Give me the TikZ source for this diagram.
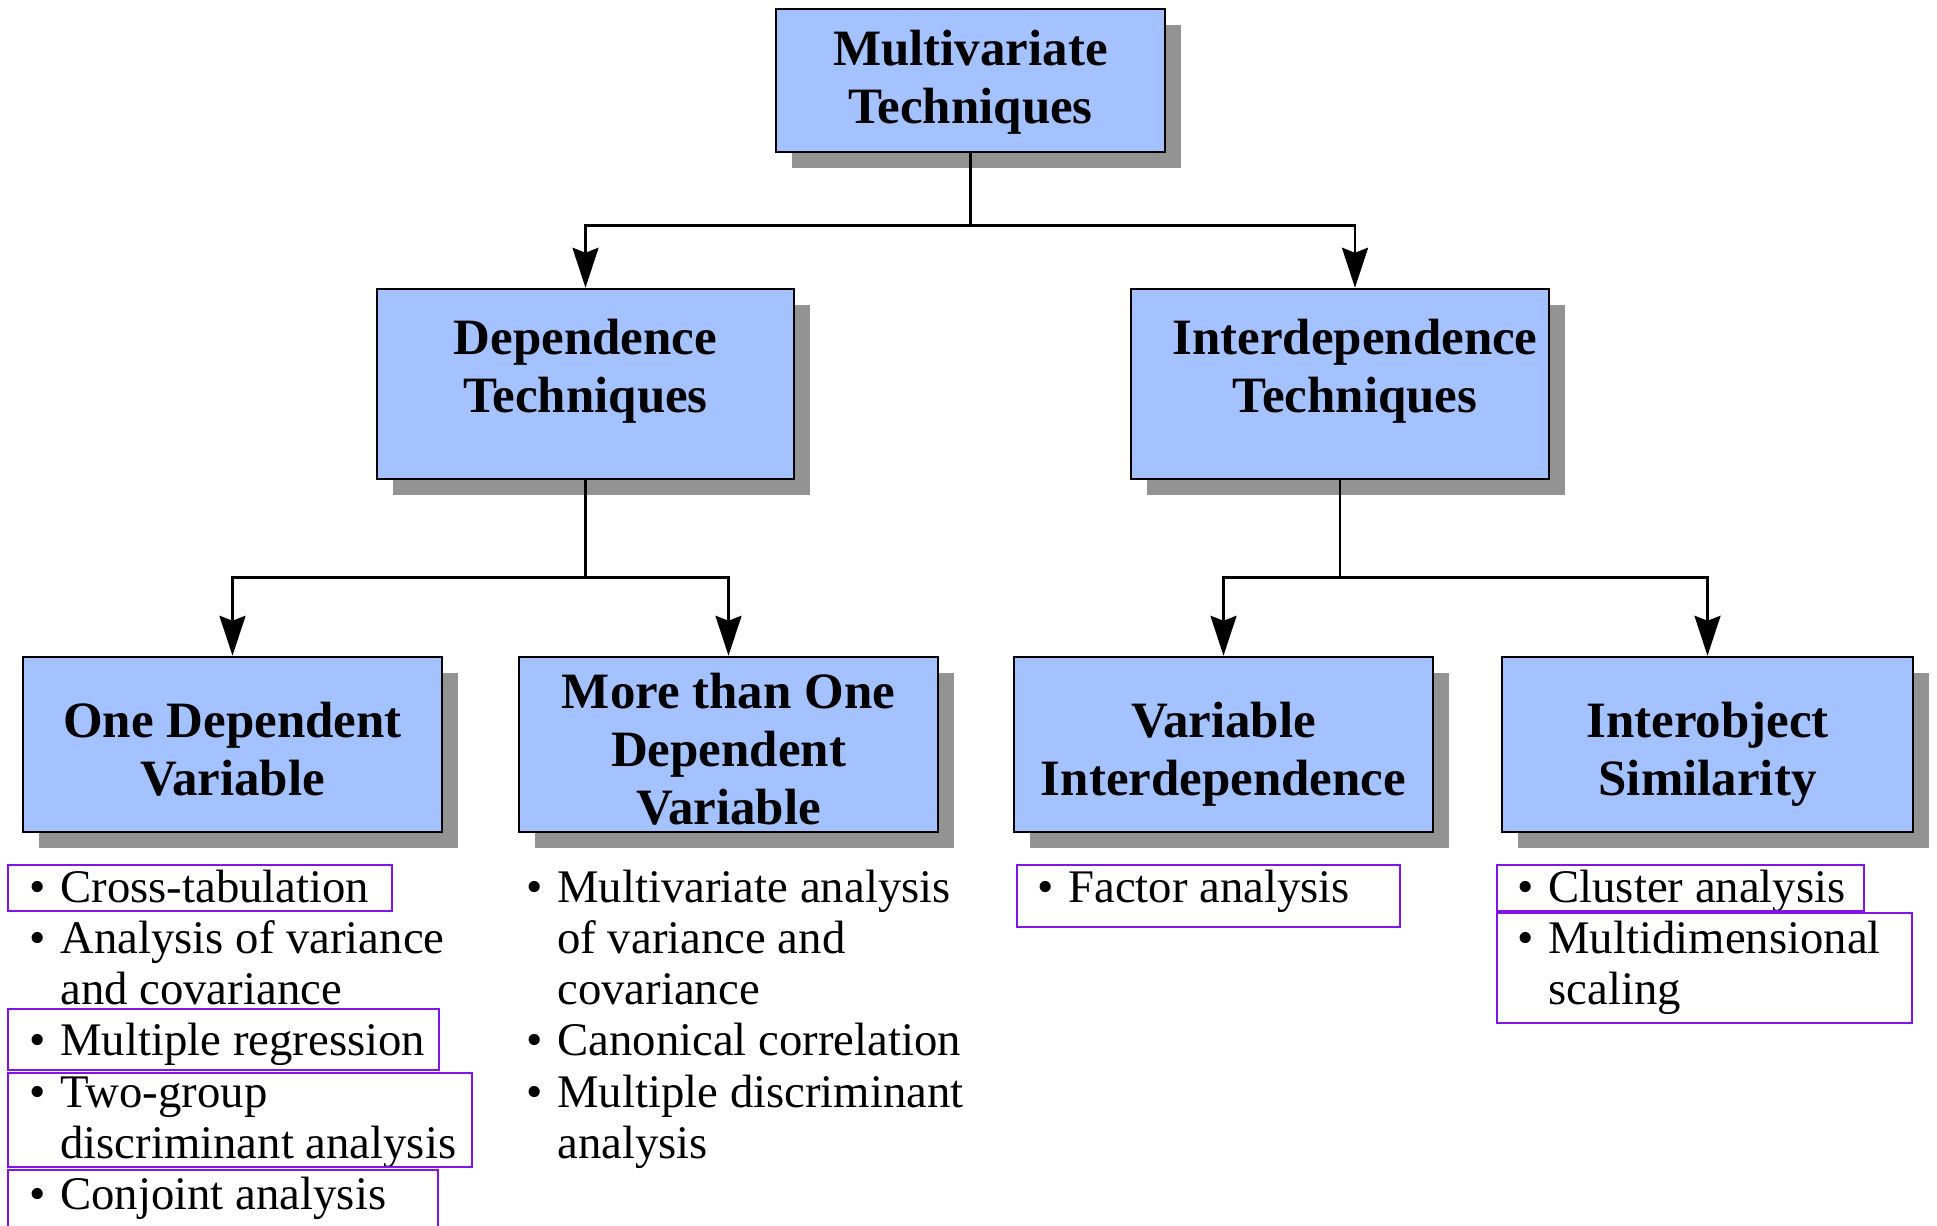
\documentclass[tikz,border=0pt]{standalone}
\usepackage{fontspec}
\setmainfont{Liberation Serif}
\usetikzlibrary{shadows,arrows.meta}

\definecolor{boxblue}{RGB}{163,194,255}
\definecolor{shadowgray}{RGB}{147,147,147}
\definecolor{markpurple}{RGB}{130,20,230}

% bullet items, one paragraph each
\newcommand{\litem}[1]{\par\noindent\hangindent=0.62cm\hangafter=1\makebox[0.62cm][l]{\textbullet}#1}
\newcommand{\itemlist}[1]{\parbox[t]{10cm}{\raggedright #1}}

\tikzset{
	techbox/.style={draw=black, line width=1.4pt, fill=boxblue, align=center, inner sep=0pt,
		font=\fontsize{29}{33}\selectfont\bfseries,
		drop shadow={shadow xshift=0.32cm, shadow yshift=-0.32cm, fill=shadowgray, opacity=1}},
	leafbox/.style={techbox, minimum width=8.38cm, minimum height=3.5cm, text height=2.05cm},
	listtext/.style={anchor=base west, inner sep=0pt, font=\fontsize{26.6}{29.2}\selectfont},
	hilite/.style={draw=markpurple, line width=1.3pt},
	link/.style={line width=1.5pt, -{Stealth[length=0.8cm, width=0.52cm, inset=0.1cm]}}
}

\begin{document}
\begin{tikzpicture}
	\useasboundingbox (0,0) rectangle (38.74,-24.5);
	
	\node[techbox, minimum width=7.78cm, minimum height=2.86cm, text height=1.95cm] (mvt) at (19.41,-1.61) {Multivariate\\Techniques};
	
	\node[techbox, minimum width=8.34cm, minimum height=3.8cm, text depth=0.74cm] (dep) at (11.71,-7.68) {Dependence\\Techniques};
	\node[techbox, minimum width=8.36cm, minimum height=3.8cm, text depth=0.74cm] (interdep) at (26.8,-7.68) {\hspace*{0.6cm}Interdependence\\\hspace*{0.6cm}Techniques};
	
	\node[leafbox] (onedv) at (4.65,-14.89) {One Dependent\\Variable};
	\node[leafbox, text height=3.21cm] (moredv) at (14.57,-14.89) {More than One\\Dependent\\Variable};
	\node[leafbox, text height=2.25cm] (varint) at (24.47,-14.89) {Variable\\Interdependence};
	\node[leafbox, minimum width=8.22cm, text height=2.25cm] (objsim) at (34.15,-14.89) {Interobject\\Similarity};
	
	\draw[link] (mvt.south) -- ++(0,-1.44) -| (dep.north);
	\draw[link] (mvt.south) -- ++(0,-1.44) -| ([xshift=0.3cm]interdep.north);
	\draw[link] (dep.south) -- ++(0,-1.94) -| (onedv.north);
	\draw[link] (dep.south) -- ++(0,-1.94) -| (moredv.north);
	\draw[link] (interdep.south) -- ++(0,-1.94) -| (varint.north);
	\draw[link] (interdep.south) -- ++(0,-1.94) -| (objsim.north);
	
	% technique lists
	\node[listtext] (onelist) at (0.58,-18.04) {\itemlist{%
		\litem{Cross-tabulation}
		\litem{Analysis of variance\newline and covariance}
		\litem{Multiple regression}
		\litem{Two-group\newline discriminant analysis}
		\litem{Conjoint analysis}}};
	\node[listtext] (morelist) at (10.52,-18.04) {\itemlist{%
		\litem{Multivariate analysis\newline of variance and\newline covariance}
		\litem{Canonical correlation}
		\litem{Multiple discriminant\newline analysis}}};
	\node[listtext] (varlist) at (20.74,-18.04) {\itemlist{\litem{Factor analysis}}};
	\node[listtext] (simlist) at (30.34,-18.04) {\itemlist{%
		\litem{Cluster analysis}
		\litem{Multidimensional\newline scaling}}};
	
	% marked items
	\draw[hilite] (0.16,-17.30) rectangle (7.84,-18.22);
	\draw[hilite] (0.16,-20.18) rectangle (8.78,-21.40);
	\draw[hilite] (0.16,-21.46) rectangle (9.44,-23.34);
	\draw[hilite] (0.16,-23.40) rectangle (8.76,-24.80);
	\draw[hilite] (20.34,-17.30) rectangle (28.00,-18.54);
	\draw[hilite] (29.94,-17.30) rectangle (37.28,-18.22);
	\draw[hilite] (29.94,-18.26) rectangle (38.24,-20.46);
	
\end{tikzpicture}
\end{document}
